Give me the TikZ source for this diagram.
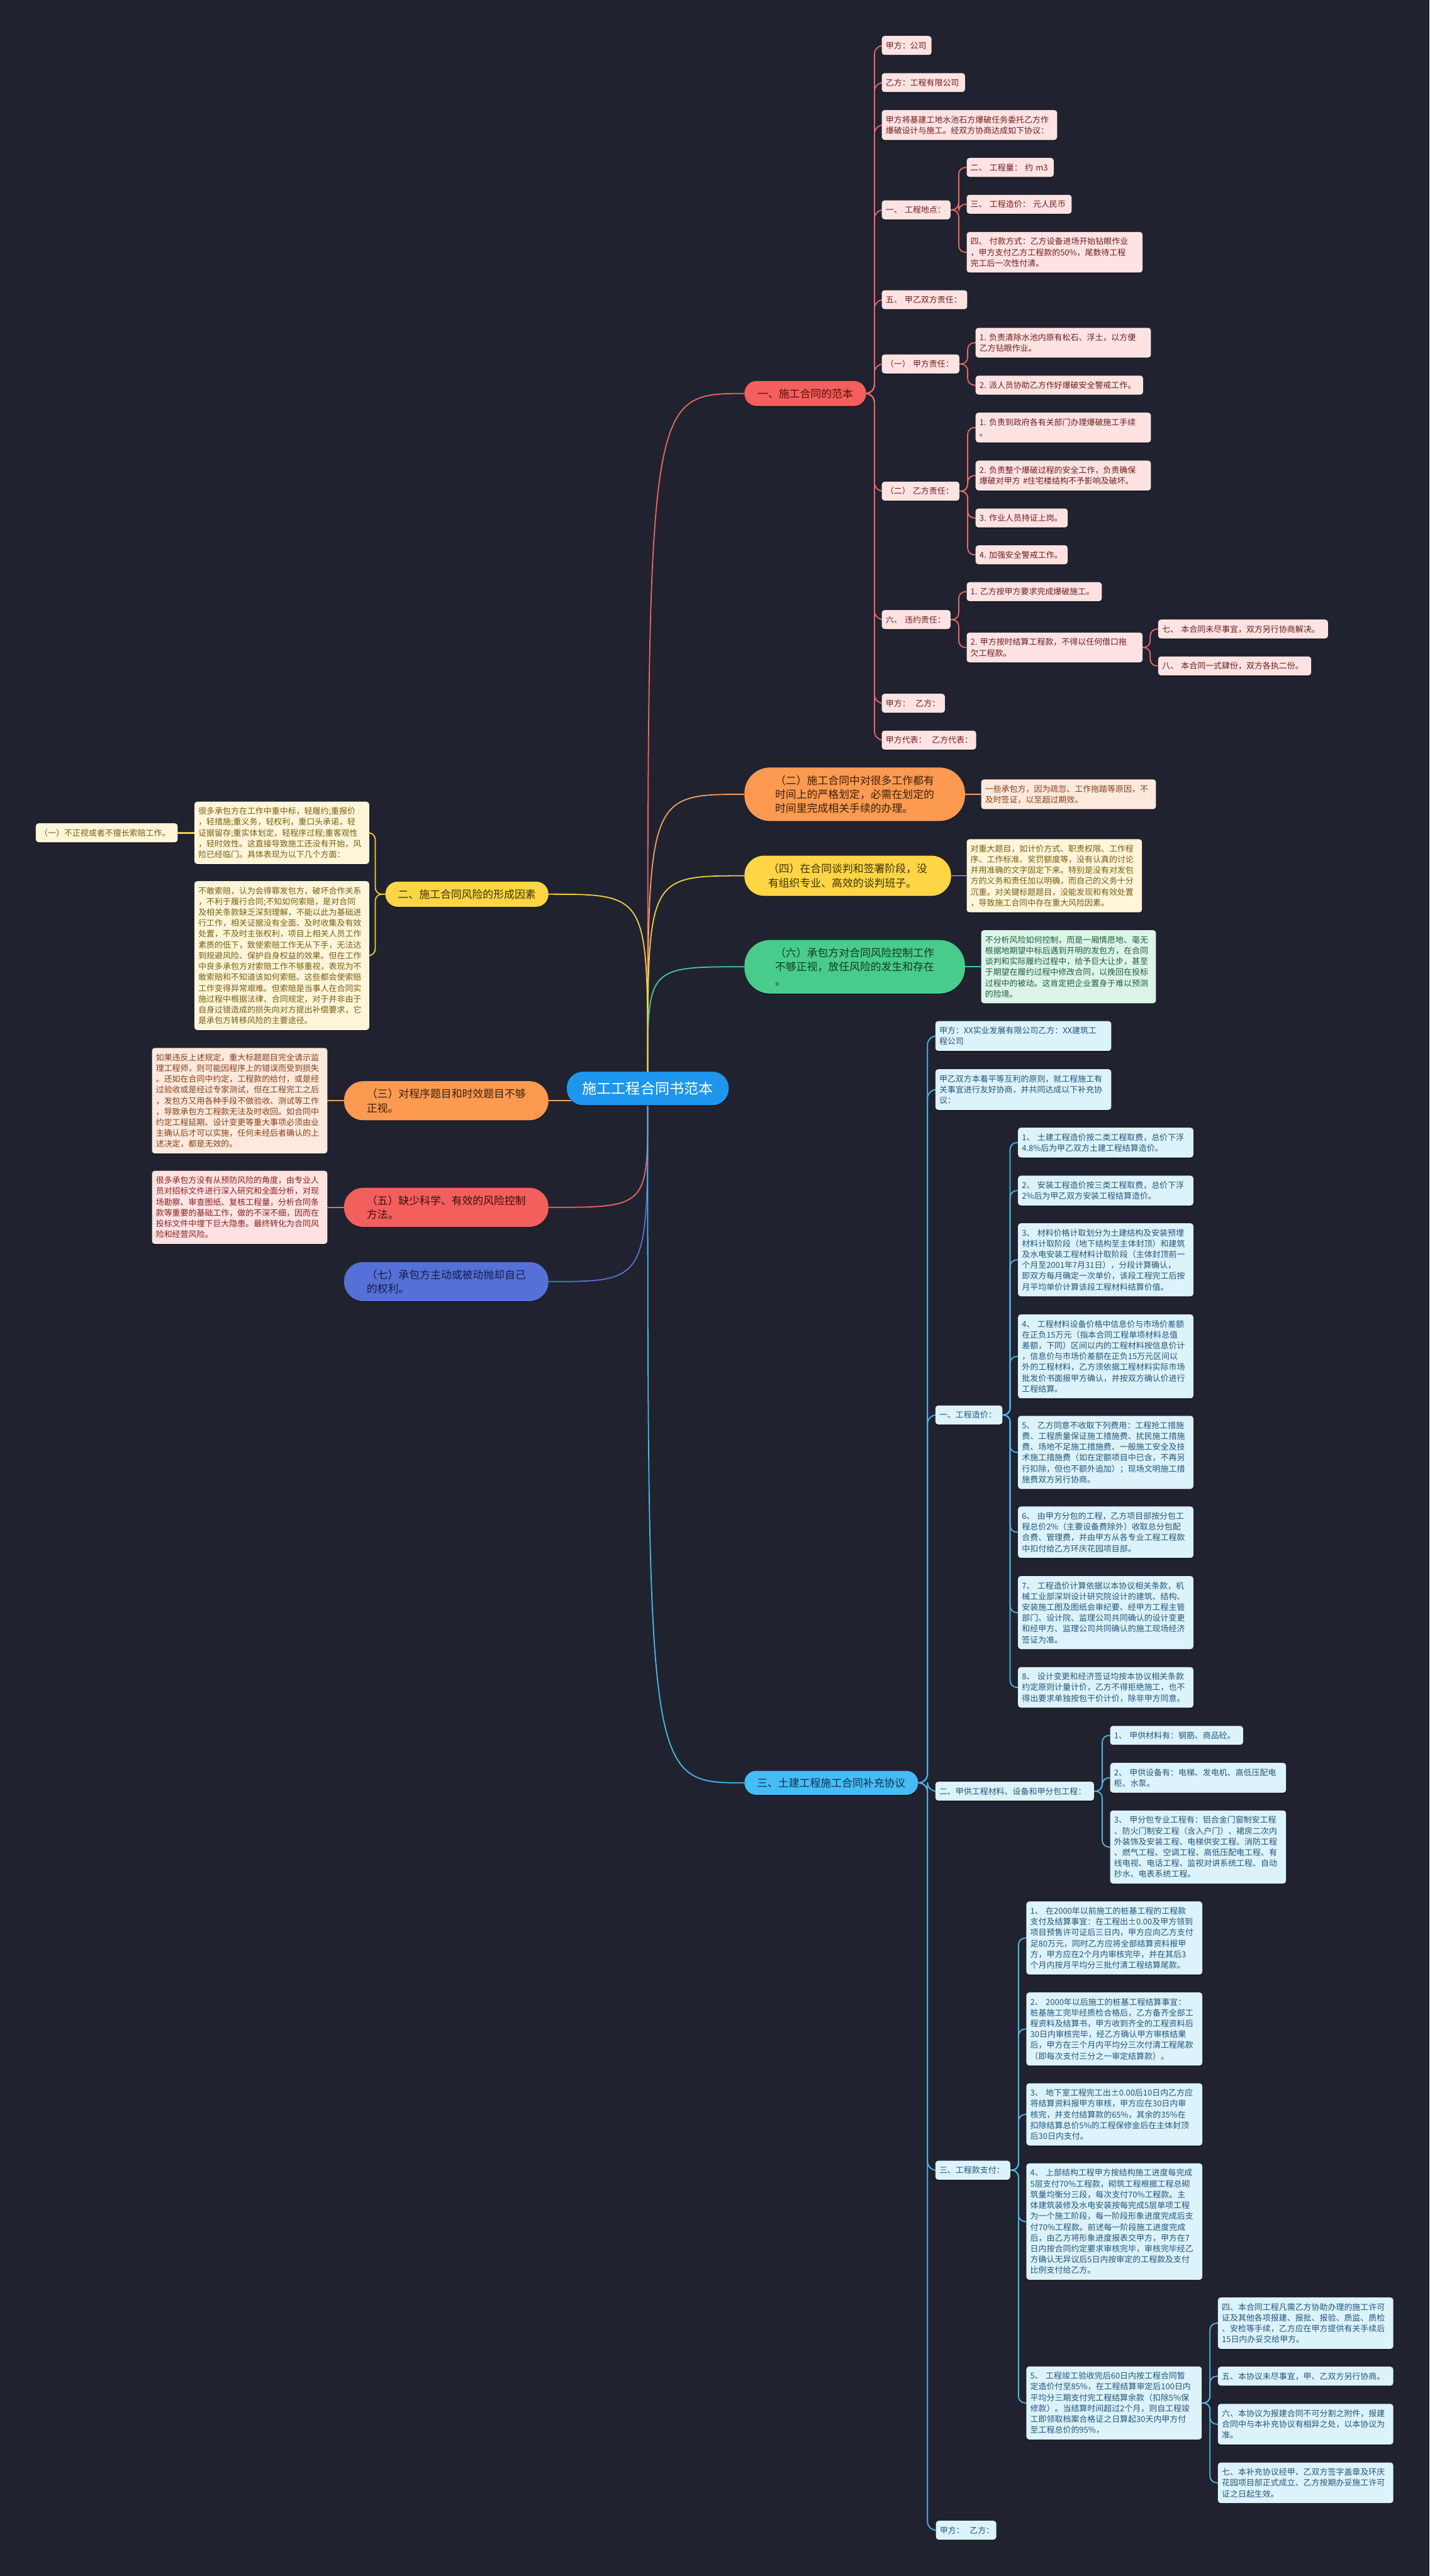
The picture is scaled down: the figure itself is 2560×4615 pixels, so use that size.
\documentclass[tikz,border=0pt]{standalone}
\usepackage{fontspec}
\setmainfont{Noto Sans CJK SC}
\usetikzlibrary{shadows}
\pgfdeclarelayer{bglayer}
\pgfdeclarelayer{edges}
\pgfsetlayers{bglayer,edges,main}
\definecolor{bg}{HTML}{20232F}
\definecolor{rootc}{HTML}{1E96EE}
\definecolor{redc}{HTML}{F25F5C}
\definecolor{redl}{HTML}{EE6767}
\definecolor{rfill}{HTML}{FFE3E3}
\definecolor{rtxt}{HTML}{6E1C1C}
\definecolor{orc}{HTML}{FB9A50}
\definecolor{orl}{HTML}{F5A066}
\definecolor{ofill}{HTML}{FFE9DD}
\definecolor{otxt}{HTML}{84401A}
\definecolor{yec}{HTML}{FDD545}
\definecolor{yel}{HTML}{F3D046}
\definecolor{yfill}{HTML}{FFF6DA}
\definecolor{ytxt}{HTML}{7A5C12}
\definecolor{grc}{HTML}{49CB8B}
\definecolor{grl}{HTML}{4CC990}
\definecolor{gfill}{HTML}{DDF5E8}
\definecolor{gtxt}{HTML}{1E5E3E}
\definecolor{puc}{HTML}{5570D6}
\definecolor{pul}{HTML}{5A72D8}
\definecolor{cyc}{HTML}{45BCF5}
\definecolor{cyl}{HTML}{4DB9EE}
\definecolor{bfill}{HTML}{DDF3FC}
\definecolor{btxt}{HTML}{22557A}
\definecolor{pfill}{HTML}{FFE3E3}
\definecolor{ptxt}{HTML}{8A1E1E}
\newcommand\leaffont{\fontsize{14.6pt}{19.4pt}\selectfont}
\newcommand\pillfont{\fontsize{19pt}{25.3pt}\selectfont}
\newcommand\rootfont{\fontsize{26pt}{30pt}\selectfont}
\begin{document}
\begin{tikzpicture}[x=1pt,y=-1pt,
  shd/.style={drop shadow={shadow xshift=0pt,shadow yshift=-1.5pt,opacity=0.55,fill=black}},
  leaf/.style={shd,font=\leaffont,align=left,inner xsep=7pt,inner ysep=4pt,rounded corners=5pt,anchor=west,minimum height=34pt},
  nl/.style={minimum height={34+19.4*(#1-1)}},
  rleaf/.style={leaf,fill=rfill,text=rtxt},
  bleaf/.style={leaf,fill=bfill,text=btxt},
  yleaf/.style={leaf,fill=yfill,text=ytxt},
  oleaf/.style={leaf,fill=ofill,text=otxt},
  gleaf/.style={leaf,fill=gfill,text=gtxt},
  pleaf/.style={leaf,fill=pfill,text=ptxt},
  pill/.style={shd,font=\pillfont,align=left,inner sep=0pt,anchor=west},
  rootn/.style={shd,font=\rootfont,text=white,fill=rootc,minimum width=290pt,minimum height=60pt,rounded corners=29pt,inner sep=0pt},
  conn/.style={line width=2pt,line cap=round},
  elb/.style={conn,rounded corners=12pt}
]
\begin{pgfonlayer}{bglayer}
\fill[bg] (0,0) rectangle (2560,4615);
\end{pgfonlayer}
\useasboundingbox (0,0) rectangle (2560,4615);

% ---------- root
\node[rootn] (root) at (1160,1950) {施工工程合同书范本};

% ---------- main branches
\node[pill,fill=redc,text={rgb,255:red,90;green,14;blue,14},minimum width=218pt,minimum height=45pt,rounded corners=22pt] (PA) at (1333,705) {一、施工合同的范本};
\node[pill,fill=orc,text={rgb,255:red,59;green,32;blue,12},minimum width=395pt,minimum height=96pt,rounded corners=46pt] (P2) at (1333,1423) {（二）施工合同中对很多工作都有\\时间上的严格划定，必需在划定的\\时间里完成相关手续的办理。};
\node[pill,fill=yec,text={rgb,255:red,61;green,50;blue,8},minimum width=370pt,minimum height=72pt,rounded corners=35pt] (P4) at (1333,1569) {（四）在合同谈判和签署阶段，没\\有组织专业、高效的谈判班子。};
\node[pill,fill=grc,text={rgb,255:red,14;green,59;blue,37},minimum width=395pt,minimum height=96pt,rounded corners=46pt] (P6) at (1333,1732) {（六）承包方对合同风险控制工作\\不够正视，放任风险的发生和存在\\。};
\node[pill,fill=yec,text={rgb,255:red,61;green,50;blue,8},minimum width=292pt,minimum height=45pt,rounded corners=22pt] (PL) at (690,1602) {二、施工合同风险的形成因素};
\node[pill,fill=orc,text={rgb,255:red,59;green,32;blue,12},minimum width=366pt,minimum height=70pt,rounded corners=34pt] (P3) at (616,1972) {（三）对程序题目和时效题目不够\\正视。};
\node[pill,fill=redc,text={rgb,255:red,61;green,13;blue,13},minimum width=366pt,minimum height=70pt,rounded corners=34pt] (P5) at (616,2163) {（五）缺少科学、有效的风险控制\\方法。};
\node[pill,fill=puc,text={rgb,255:red,20;green,28;blue,72},minimum width=366pt,minimum height=70pt,rounded corners=34pt] (P7) at (616,2296) {（七）承包方主动或被动抛却自己\\的权利。};
\node[pill,fill=cyc,text={rgb,255:red,16;green,49;blue,77},minimum width=311pt,minimum height=43pt,rounded corners=21pt] (PB) at (1333,3194) {三、土建工程施工合同补充协议};

% ---------- detail boxes of main branches
\node[oleaf,text width=299pt,nl=2] (T2) at (1757,1423) {一些承包方，因为疏忽、工作拖踏等原因，不\\及时签证，以至超过期效。};
\node[yleaf,text width=300pt,nl=6] (T4) at (1731,1569) {对重大题目，如计价方式、职责权限、工作程\\序、工作标准、奖罚额度等，没有认真的讨论\\并用准确的文字固定下来。特别是没有对发包\\方的义务和责任加以明确，而自己的义务十分\\沉重。对关键标题题目，没能发现和有效处置\\，导致施工合同中存在重大风险因素。};
\node[gleaf,text width=299pt,nl=6] (T6) at (1757,1732) {不分析风险如何控制，而是一厢情愿地、毫无\\根据地期望中标后遇到开明的发包方，在合同\\谈判和实际履约过程中，给予巨大让步，甚至\\于期望在履约过程中修改合同，以挽回在投标\\过程中的被动。这肯定把企业置身于难以预测\\的险境。};
\node[oleaf,text width=300pt,nl=9] (L3) at (272,1972) {如果违反上述规定，重大标题题目完全请示监\\理工程师，则可能因程序上的错误而受到损失\\。还如在合同中约定，工程款的给付，或是经\\过验收或是经过专家测试，但在工程完工之后\\，发包方又用各种手段不做验收、测试等工作\\，导致承包方工程款无法及时收回。如合同中\\约定工程延期、设计变更等重大事项必须由业\\主确认后才可以实施，任何未经后者确认的上\\述决定，都是无效的。};
\node[pleaf,text width=300pt,nl=6] (L5) at (272,2163) {很多承包方没有从预防风险的角度，由专业人\\员对招标文件进行深入研究和全面分析，对现\\场勘察、审查图纸、复核工程量，分析合同条\\款等重要的基础工作，做的不深不细，因而在\\投标文件中埋下巨大隐患。最终转化为合同风\\险和经营风险。};

% ---------- left yellow branch
\node[yleaf,text width=299pt,nl=5] (L1) at (348,1492) {很多承包方在工作中重中标，轻履约;重报价\\，轻措施;重义务，轻权利，重口头承诺，轻\\证据留存;重实体划定，轻程序过程;重客观性\\，轻时效性。这直接导致施工还没有开始，风\\险已经临门。具体表现为以下几个方面：};
\node[yleaf,text width=240pt] (L1a) at (64,1492) {（一）不正视或者不擅长索赔工作。};
\node[yleaf,text width=299pt,nl=13] (L2) at (348,1712) {不敢索赔，认为会得罪发包方，破坏合作关系\\，不利于履行合同;不知如何索赔，是对合同\\及相关条款缺乏深刻理解，不能以此为基础进\\行工作，相关证据没有全面、及时收集及有效\\处置，不及时主张权利，项目上相关人员工作\\素质的低下，致使索赔工作无从下手，无法达\\到规避风险、保护自身权益的效果。但在工作\\中良多承包方对索赔工作不够重视，表现为不\\敢索赔和不知道该如何索赔。这些都会使索赔\\工作变得异常艰难。但索赔是当事人在合同实\\施过程中根据法律、合同规定，对于并非由于\\自身过错造成的损失向对方提出补偿要求，它\\是承包方转移风险的主要途径。};

% ---------- red branch leaves
\node[rleaf,text width=75pt] (A1) at (1579,81.5) {甲方：公司};
\node[rleaf,text width=135pt] (A2) at (1579,148) {乙方：工程有限公司};
\node[rleaf,text width=300pt,nl=2] (A3) at (1579,224) {甲方将基建工地水池石方爆破任务委托乙方作\\爆破设计与施工。经双方协商达成如下协议：};
\node[rleaf,text width=109pt] (A4) at (1579,376) {一、~工程地点：};
\node[rleaf,text width=142pt] (A4a) at (1731,300) {二、~工程量：~约~m3};
\node[rleaf,text width=174pt] (A4b) at (1731,366) {三、~工程造价：~元人民币};
\node[rleaf,text width=301pt,nl=3] (A4c) at (1731,452) {四、~付款方式：乙方设备进场开始钻眼作业\\，甲方支付乙方工程款的50\%，尾数待工程\\完工后一次性付清。};
\node[rleaf,text width=139pt] (A5) at (1579,537) {五、~甲乙双方责任：};
\node[rleaf,text width=125pt] (A6) at (1579,652) {（一）~甲方责任：};
\node[rleaf,text width=300pt,nl=2] (A6a) at (1747,614) {1.~负责清除水池内原有松石、浮土，以方便\\乙方钻眼作业。};
\node[rleaf,text width=286pt] (A6b) at (1747,690) {2.~派人员协助乙方作好爆破安全警戒工作。};
\node[rleaf,text width=125pt] (A7) at (1579,880) {（二）~乙方责任：};
\node[rleaf,text width=300pt,nl=2] (A7a) at (1747,766) {1.~负责到政府各有关部门办理爆破施工手续\\。};
\node[rleaf,text width=300pt,nl=2] (A7b) at (1747,852) {2.~负责整个爆破过程的安全工作，负责确保\\爆破对甲方~\#住宅楼结构不予影响及破坏。};
\node[rleaf,text width=151pt] (A7c) at (1747,928) {3.~作业人员持证上岗。};
\node[rleaf,text width=151pt] (A7d) at (1747,994) {4.~加强安全警戒工作。};
\node[rleaf,text width=109pt] (A8) at (1579,1110) {六、~违约责任：};
\node[rleaf,text width=228pt] (A8a) at (1731,1060) {1.~乙方按甲方要求完成爆破施工。};
\node[rleaf,text width=301pt,nl=2] (A8b) at (1731,1160) {2.~甲方按时结算工程款，不得以任何借口拖\\欠工程款。};
\node[rleaf,text width=290pt] (A8c) at (2074,1127) {七、~本合同未尽事宜，双方另行协商解决。};
\node[rleaf,text width=260pt] (A8d) at (2074,1193) {八、~本合同一式肆份，双方各执二份。};
\node[rleaf,text width=99pt] (A9) at (1579,1260) {甲方：~~乙方：};
\node[rleaf,text width=155pt] (A10) at (1579,1326) {甲方代表：~~乙方代表：};

% ---------- blue branch leaves
\node[bleaf,text width=301pt,nl=2] (B1) at (1675,1856) {甲方：XX实业发展有限公司乙方：XX建筑工\\程公司};
\node[bleaf,text width=301pt,nl=3] (B2) at (1675,1952) {甲乙双方本着平等互利的原则，就工程施工有\\关事宜进行友好协商，并共同达成以下补充协\\议：};
\node[bleaf,text width=106pt] (B3) at (1675,2535) {一、工程造价：};
\node[bleaf,text width=300pt,nl=2] (B3a) at (1823,2047) {1、~土建工程造价按二类工程取费，总价下浮\\4.8\%后为甲乙双方土建工程结算造价。};
\node[bleaf,text width=300pt,nl=2] (B3b) at (1823,2133) {2、~安装工程造价按三类工程取费，总价下浮\\2\%后为甲乙双方安装工程结算造价。};
\node[bleaf,text width=300pt,nl=6] (B3c) at (1823,2257) {3、~材料价格计取划分为土建结构及安装预埋\\材料计取阶段（地下结构至主体封顶）和建筑\\及水电安装工程材料计取阶段（主体封顶前一\\个月至2001年7月31日），分段计算确认，\\即双方每月确定一次单价，该段工程完工后按\\月平均单价计算该段工程材料结算价值。};
\node[bleaf,text width=300pt,nl=7] (B3d) at (1823,2430) {4、~工程材料设备价格中信息价与市场价差额\\在正负15万元（指本合同工程单项材料总值\\差额，下同）区间以内的工程材料按信息价计\\，信息价与市场价差额在正负15万元区间以\\外的工程材料，乙方须依据工程材料实际市场\\批发价书面报甲方确认，并按双方确认价进行\\工程结算。};
\node[bleaf,text width=300pt,nl=6] (B3e) at (1823,2602) {5、~乙方同意不收取下列费用：工程抢工措施\\费、工程质量保证施工措施费、扰民施工措施\\费、场地不足施工措施费、一般施工安全及技\\术施工措施费（如在定额项目中已含，不再另\\行扣除，但也不额外追加）；现场文明施工措\\施费双方另行协商。};
\node[bleaf,text width=300pt,nl=4] (B3f) at (1823,2745) {6、~由甲方分包的工程，乙方项目部按分包工\\程总价2\%（主要设备费除外）收取总分包配\\合费、管理费，并由甲方从各专业工程工程款\\中扣付给乙方环庆花园项目部。};
\node[bleaf,text width=300pt,nl=6] (B3g) at (1823,2889) {7、~工程造价计算依据以本协议相关条款，机\\械工业部深圳设计研究院设计的建筑、结构、\\安装施工图及图纸会审纪要、经甲方工程主管\\部门、设计院、监理公司共同确认的设计变更\\和经甲方、监理公司共同确认的施工现场经济\\签证为准。};
\node[bleaf,text width=300pt,nl=3] (B3h) at (1823,3023) {8、~设计变更和经济签证均按本协议相关条款\\约定原则计量计价，乙方不得拒绝施工，也不\\得出要求单独按包干价计价，除非甲方同意。};
\node[bleaf,text width=270pt] (B4) at (1675,3209) {二、甲供工程材料、设备和甲分包工程：};
\node[bleaf,text width=224pt] (B4a) at (1988,3109) {1、~甲供材料有：钢筋、商品砼。};
\node[bleaf,text width=301pt,nl=2] (B4b) at (1988,3185) {2、~甲供设备有：电梯、发电机、高低压配电\\柜、水泵。};
\node[bleaf,text width=301pt,nl=6] (B4c) at (1988,3309) {3、~甲分包专业工程有：铝合金门窗制安工程\\、防火门制安工程（含入户门）、裙房二次内\\外装饰及安装工程、电梯供安工程、消防工程\\、燃气工程、空调工程、高低压配电工程、有\\线电视、电话工程、监视对讲系统工程、自动\\抄水、电表系统工程。};
\node[bleaf,text width=120pt] (B5) at (1675,3888) {三、工程款支付：};
\node[bleaf,text width=301pt,nl=6] (B5a) at (1838,3472) {1、~在2000年以前施工的桩基工程的工程款\\支付及结算事宜：在工程出±0.00及甲方领到\\项目预售许可证后三日内，甲方应向乙方支付\\足80万元，同时乙方应将全部结算资料报甲\\方，甲方应在2个月内审核完毕，并在其后3\\个月内按月平均分三批付清工程结算尾款。};
\node[bleaf,text width=301pt,nl=6] (B5b) at (1838,3635) {2、~2000年以后施工的桩基工程结算事宜：\\桩基施工完毕经质检合格后，乙方备齐全部工\\程资料及结算书，甲方收到齐全的工程资料后\\30日内审核完毕，经乙方确认甲方审核结果\\后，甲方在三个月内平均分三次付清工程尾款\\（即每次支付三分之一审定结算款）。};
\node[bleaf,text width=301pt,nl=5] (B5c) at (1838,3788) {3、~地下室工程完工出±0.00后10日内乙方应\\将结算资料报甲方审核，甲方应在30日内审\\核完，并支付结算款的65\%，其余的35\%在\\扣除结算总价5\%的工程保修金后在主体封顶\\后30日内支付。};
\node[bleaf,text width=301pt,nl=10] (B5d) at (1838,3980) {4、~上部结构工程甲方按结构施工进度每完成\\5层支付70\%工程款，砌筑工程根据工程总砌\\筑量均衡分三段，每次支付70\%工程款。主\\体建筑装修及水电安装按每完成5层单项工程\\为一个施工阶段，每一阶段形象进度完成后支\\付70\%工程款。前述每一阶段施工进度完成\\后，由乙方将形象进度报表交甲方，甲方在7\\日内按合同约定要求审核完毕，审核完毕经乙\\方确认无异议后5日内按审定的工程款及支付\\比例支付给乙方。};
\node[bleaf,text width=300pt,nl=6] (B5e) at (1838,4305) {5、~工程竣工验收完后60日内按工程合同暂\\定造价付至85\%，在工程结算审定后100日内\\平均分三期支付完工程结算余款（扣除5\%保\\修款）。当结算时间超过2个月，则自工程竣\\工即领取档案合格证之日算起30天内甲方付\\至工程总价的95\%，};
\node[bleaf,text width=300pt,nl=4] (B5f) at (2181,4162) {四、本合同工程凡需乙方协助办理的施工许可\\证及其他各项报建、报批、报验、质监、质检\\、安检等手续，乙方应在甲方提供有关手续后\\15日内办妥交给甲方。};
\node[bleaf,text width=300pt] (B5g) at (2181,4257) {五、本协议未尽事宜，甲、乙双方另行协商。};
\node[bleaf,text width=300pt,nl=3] (B5h) at (2181,4343) {六、本协议为报建合同不可分割之附件，报建\\合同中与本补充协议有相异之处，以本协议为\\准。};
\node[bleaf,text width=300pt,nl=3] (B5i) at (2181,4448) {七、本补充协议经甲、乙双方签字盖章及环庆\\花园项目部正式成立、乙方按期办妥施工许可\\证之日起生效。};
\node[bleaf,text width=94pt] (B6) at (1676,4533) {甲方：~~乙方：};

% ---------- elbow coordinates
\coordinate (mA) at (1566,0);
\coordinate (mA4) at (1717,0);
\coordinate (mA6) at (1733,0);
\coordinate (mA8) at (1717,0);
\coordinate (mA8b) at (2060,0);
\coordinate (mB) at (1661,0);
\coordinate (mB3) at (1809,0);
\coordinate (mB4) at (1974,0);
\coordinate (mB5) at (1824,0);
\coordinate (mB5e) at (2167,0);
\coordinate (mL) at (672,0);

\begin{pgfonlayer}{edges}
% root connectors
\draw[conn,redl] (root.north) .. controls (root.north |- PA.west) .. (PA.west);
\draw[conn,orl] (root.north) .. controls (root.north |- P2.west) .. (P2.west);
\draw[conn,yel] (root.north) .. controls (root.north |- P4.west) .. (P4.west);
\draw[conn,grl] (root.north) .. controls (root.north |- P6.west) .. (P6.west);
\draw[conn,yel] (root.north) .. controls (root.north |- PL.east) .. (PL.east);
\draw[conn,orl] (P3.east) -- (P3.east -| root.center);
\draw[conn,redl] (root.south) .. controls (root.south |- P5.east) .. (P5.east);
\draw[conn,pul] (root.south) .. controls (root.south |- P7.east) .. (P7.east);
\draw[conn,cyl] (root.south) .. controls (root.south |- PB.west) .. (PB.west);
% detail links
\draw[conn,orl] (P2.east) -- (T2.west);
\draw[conn,yel] (P4.east) -- (T4.west);
\draw[conn,grl] (P6.east) -- (T6.west);
\draw[conn,orl] (P3.west) -- (L3.east);
\draw[conn,redl] (P5.west) -- (L5.east);
% left yellow
\foreach \c in {L1,L2}
  \draw[elb,yel] (PL.west) -- (PL.west -| mL) -- (\c.east -| mL) -- (\c.east);
\draw[conn,yel,line width=3.5pt] (L1.west) -- (L1a.east);
% red branch
\foreach \c in {A1,A2,A3,A4,A5,A6,A7,A8,A9,A10}
  \draw[elb,redl,rounded corners=16pt] (PA.east) -- (PA.east -| mA) -- (\c.west -| mA) -- (\c.west);
\foreach \c in {A4a,A4b,A4c}
  \draw[elb,redl] (A4.east) -- (A4.east -| mA4) -- (\c.west -| mA4) -- (\c.west);
\foreach \c in {A6a,A6b}
  \draw[elb,redl] (A6.east) -- (A6.east -| mA6) -- (\c.west -| mA6) -- (\c.west);
\foreach \c in {A7a,A7b,A7c,A7d}
  \draw[elb,redl] (A7.east) -- (A7.east -| mA6) -- (\c.west -| mA6) -- (\c.west);
\foreach \c in {A8a,A8b}
  \draw[elb,redl] (A8.east) -- (A8.east -| mA8) -- (\c.west -| mA8) -- (\c.west);
\foreach \c in {A8c,A8d}
  \draw[elb,redl] (A8b.east) -- (A8b.east -| mA8b) -- (\c.west -| mA8b) -- (\c.west);
% blue branch
\foreach \c in {B1,B2,B3,B4,B5,B6}
  \draw[elb,cyl,rounded corners=16pt] (PB.east) -- (PB.east -| mB) -- (\c.west -| mB) -- (\c.west);
\foreach \c in {B3a,B3b,B3c,B3d,B3e,B3f,B3g,B3h}
  \draw[elb,cyl] (B3.east) -- (B3.east -| mB3) -- (\c.west -| mB3) -- (\c.west);
\foreach \c in {B4a,B4b,B4c}
  \draw[elb,cyl] (B4.east) -- (B4.east -| mB4) -- (\c.west -| mB4) -- (\c.west);
\foreach \c in {B5a,B5b,B5c,B5d,B5e}
  \draw[elb,cyl] (B5.east) -- (B5.east -| mB5) -- (\c.west -| mB5) -- (\c.west);
\foreach \c in {B5f,B5g,B5h,B5i}
  \draw[elb,cyl] (B5e.east) -- (B5e.east -| mB5e) -- (\c.west -| mB5e) -- (\c.west);
\end{pgfonlayer}
\end{tikzpicture}
\end{document}
